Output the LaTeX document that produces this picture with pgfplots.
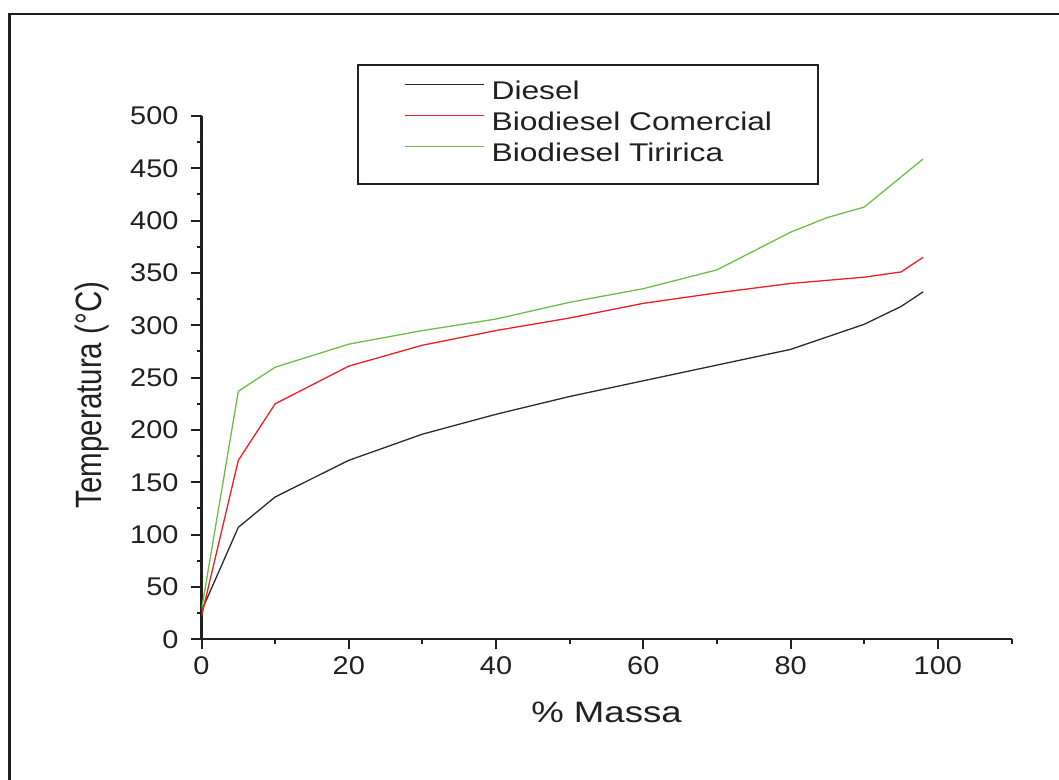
\documentclass[border=0pt]{standalone}
\usepackage{pgfplots}
\pgfplotsset{compat=1.18}
\usepackage{fontspec}
\setmainfont{Liberation Sans}
\usepackage{graphicx}

\definecolor{inkblack}{RGB}{35,31,32}
\definecolor{serieDiesel}{RGB}{45,42,42}
\definecolor{serieComercial}{RGB}{237,30,36}
\definecolor{serieTiririca}{RGB}{108,190,72}

% Curvas de destilacao: % massa destilada x temperatura (°C)
\pgfplotstableread{
x y
0 27
5 107
10 136
20 171
30 196
40 215
50 232
60 247
70 262
80 277
90 301
95 318
98 332
}\diesel
\pgfplotstableread{
x y
0 22
5 171
10 225
20 261
30 281
40 295
50 307
60 321
70 331
80 340
90 346
95 351
98 365
}\comercial
\pgfplotstableread{
x y
0 28
5 237
10 260
20 282
30 295
40 306
50 322
60 335
70 353
80 389
85 403
90 413
98 459
}\tiririca

\newcommand{\wide}[1]{\scalebox{1.24}[1]{#1}}
\newcommand{\widetick}[1]{\scalebox{1.13}[1]{#1}}

\begin{document}
\begin{tikzpicture}[x=1pt,y=1pt]
\useasboundingbox (0,0) rectangle (529.5,390);
\begin{scope}
  \clip (0,0) rectangle (529.5,390);
  \draw[line width=1.25pt, inkblack] (4.75,383) rectangle (600,-20);
\end{scope}
\begin{axis}[
  at={(100.75pt,70.35pt)}, anchor=south west,
  scale only axis, width=405pt, height=261.65pt,
  xmin=0, xmax=110, ymin=0, ymax=500,
  axis x line*=bottom, axis y line*=left,
  axis line style={line width=1.1pt, inkblack, -},
  xtick={0,20,...,100}, minor xtick={10,30,...,110},
  ytick={0,50,...,500}, minor ytick={25,75,...,475},
  tick align=outside,
  major tick length=5pt, minor tick length=2.5pt,
  every tick/.style={line width=1pt, inkblack},
  /pgf/number format/assume math mode=true,
  tick label style={font=\fontsize{12.8}{14}\selectfont, text=inkblack},
  yticklabel style={xshift=-3pt},
  xticklabel={\widetick{\pgfmathprintnumber{\tick}}},
  yticklabel={\widetick{\pgfmathprintnumber{\tick}}},
  xlabel={\wide{\% Massa}},
  ylabel={\scalebox{1}[1.24]{Temperatura (°C)}},
  label style={font=\fontsize{14.75}{16}\selectfont, text=inkblack},
  xlabel style={at={(axis description cs:0.5,-0.1594)}, anchor=base},
  ylabel style={at={(axis description cs:-0.1356,0.4668)}, anchor=center, rotate=0},
  legend cell align=left,
  legend image code/.code={\draw[#1] (0pt,4.6pt) -- (39.7pt,4.6pt);},
  legend style={
    at={(axis description cs:0.1921,1.0988)}, anchor=north west,
    draw=inkblack, line width=1pt, fill=white,
    font=\fontsize{12.8}{15}\selectfont, text=inkblack,
    inner xsep=23pt, inner ysep=7.8pt,
    column sep=3.4pt, row sep=3pt,
    nodes={inner sep=0pt, text height=9.5pt, text depth=3pt},
  },
]
\addplot[serieDiesel, line width=0.65pt] table {\diesel};
\addlegendentry{\wide{Diesel}}
\addplot[serieComercial, line width=0.65pt] table {\comercial};
\addlegendentry{\wide{Biodiesel Comercial}}
\addplot[serieTiririca, line width=0.65pt] table {\tiririca};
\addlegendentry{\wide{Biodiesel Tiririca}}
\end{axis}
\end{tikzpicture}
\end{document}
